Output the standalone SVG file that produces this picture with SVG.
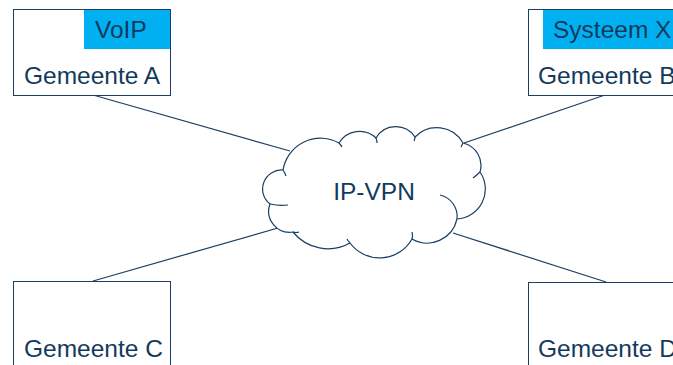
<svg xmlns="http://www.w3.org/2000/svg" width="673" height="365" viewBox="0 0 673 365">
<style>
.box{fill:#fff;stroke:#1b3f63;stroke-width:1}
.tag{fill:#00b0f0}
.t{font-family:"Liberation Sans",Arial,sans-serif;font-size:24.5px;fill:#123a5c}
.ln{stroke:#1b3f63;stroke-width:1.2;fill:none}
.cloud{fill:#fff;stroke:#1b3f63;stroke-width:1.2}
.tick{fill:none;stroke:#1b3f63;stroke-width:1.2}
</style>
<rect width="673" height="365" fill="#fff"/>
<g id="connectors">
<line class="ln" x1="93" y1="95" x2="290" y2="151"/>
<line class="ln" x1="605" y1="95" x2="464" y2="143"/>
<line class="ln" x1="93" y1="281" x2="278" y2="228"/>
<line class="ln" x1="606" y1="282" x2="453" y2="233"/>
</g>
<g id="cloud">
<path class="cloud" d="M283,170 A38,38 0 0 1 339,143 A24,24 0 0 1 376,138 A23,23 0 0 1 415,137 A30,30 0 0 1 463,143 A23,23 0 0 1 480,172 A30,30 0 0 1 457,219 A30.5,30.5 0 0 1 412,239 A37,37 0 0 1 350,243 A45,45 0 0 1 293,232 A21,21 0 0 1 270,204 A19,19 0 0 1 283,170 Z"/>
<path class="tick" d="M283,170 Q285,173 286,176 M270,204 Q279,206 288,205 M293,232 Q296,233 299,232 M350,243 Q348,241 347,239 M339,143 Q341,145 342,147 M376,138 Q377,141 377,143 M415,137 Q415,139 414,141 M463,143 Q462,145 461,147 M480,172 Q477,175 473,178 M440,195 A22,22 0 0 1 457,219 M412,239 Q413,236 412,232"/>
<text class="t" x="374" y="200" text-anchor="middle">IP-VPN</text>
</g>
<g id="gemeente-a">
<rect class="box" x="13.5" y="9.5" width="157" height="86"/>
<rect class="tag" x="84" y="10" width="86" height="39"/>
<text class="t" x="95" y="38">VoIP</text>
<text class="t" x="24" y="84">Gemeente A</text>
</g>
<g id="gemeente-b">
<rect class="box" x="528.5" y="9.5" width="160" height="86"/>
<rect class="tag" x="543" y="10" width="140" height="39"/>
<text class="t" x="553" y="38">Systeem X</text>
<text class="t" x="538" y="84">Gemeente B</text>
</g>
<g id="gemeente-c">
<rect class="box" x="13.5" y="281.5" width="157" height="100"/>
<text class="t" x="24" y="357">Gemeente C</text>
</g>
<g id="gemeente-d">
<rect class="box" x="528.5" y="282.5" width="160" height="100"/>
<text class="t" x="538" y="357">Gemeente D</text>
</g>
</svg>
